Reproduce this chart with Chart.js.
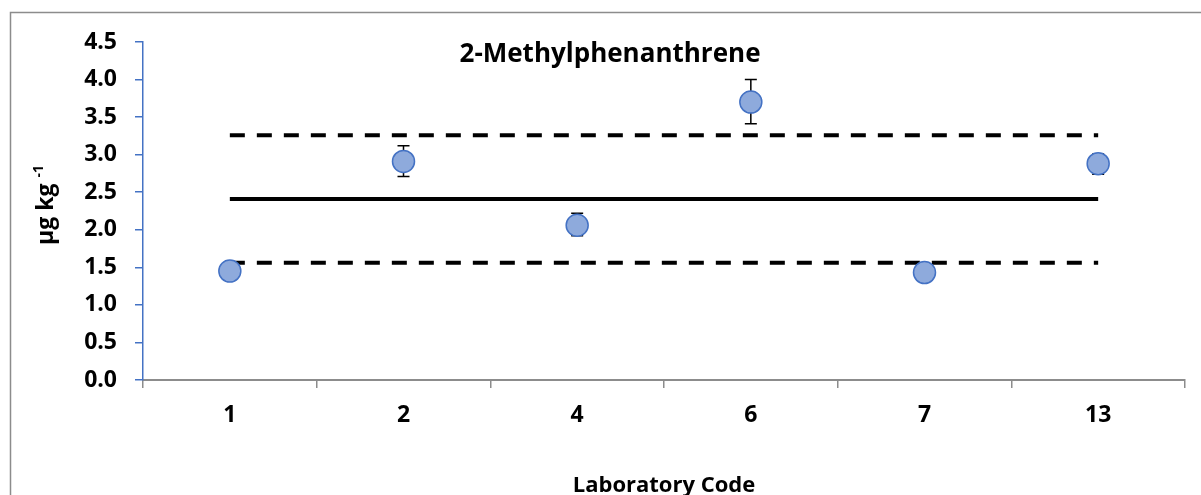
<!DOCTYPE html>
<html>
<head>
<meta charset="utf-8">
<script src="https://cdn.jsdelivr.net/npm/chart.js@4"></script>
<style>
  html, body { margin: 0; padding: 0; background: #fff; }
  #wrap { width: 1201px; height: 495px; position: relative; }
</style>
</head>
<body>
<div id="wrap"><canvas id="chart" width="1201" height="495"></canvas></div>
<script>
// lab codes and reported values (µg/kg)
const labCodes = ['1', '2', '4', '6', '7', '13'];
const labValues = [1.45, 2.91, 2.06, 3.70, 1.43, 2.88];
const errLow = [1.40, 2.71, 1.92, 3.41, 1.38, 2.74];
const errHigh = [1.50, 3.12, 2.22, 4.00, 1.48, 3.01];

// assigned value and limits
const assigned = 2.41;
const upperLimit = 3.26;
const lowerLimit = 1.56;

const yTicks = [0, 0.5, 1, 1.5, 2, 2.5, 3, 3.5, 4, 4.5];

const FONT = "'Open Sans', sans-serif";
const BLUE = '#4472c4';

// error bars, drawn before the markers
const errorBars = {
  id: 'errorBars',
  beforeDatasetsDraw(chart) {
    const ctx = chart.ctx;
    const x = chart.scales.x, y = chart.scales.y;
    ctx.save();
    ctx.strokeStyle = '#000';
    ctx.lineWidth = 1.5;
    labCodes.forEach((c, i) => {
      const px = x.getPixelForValue(i);
      const top = y.getPixelForValue(errHigh[i]);
      const bot = y.getPixelForValue(errLow[i]);
      ctx.beginPath();
      ctx.moveTo(px, top); ctx.lineTo(px, bot);
      ctx.moveTo(px - 6, top); ctx.lineTo(px + 6, top);
      ctx.moveTo(px - 6, bot); ctx.lineTo(px + 6, bot);
      ctx.stroke();
    });
    ctx.restore();
  }
};

// frame, title and y-axis label
const decorations = {
  id: 'decorations',
  afterDraw(chart) {
    const ctx = chart.ctx;
    ctx.save();
    ctx.strokeStyle = '#8c8c8c';
    ctx.lineWidth = 1.5;
    ctx.strokeRect(10.5, 12.5, 1400, 600);

    ctx.fillStyle = '#000';
    ctx.font = "bold 26px " + FONT;
    ctx.textAlign = 'center';
    ctx.textBaseline = 'alphabetic';
    ctx.fillText('2-Methylphenanthrene', 610, 62);

    // rotated y title with superscript
    ctx.translate(53, 205);
    ctx.rotate(-Math.PI / 2);
    ctx.font = "bold 23px " + FONT;
    const main = 'µg kg ';
    const wMain = ctx.measureText(main).width;
    ctx.font = "bold 14px " + FONT;
    const wSup = ctx.measureText('-1').width;
    const start = -(wMain + wSup) / 2;
    ctx.textAlign = 'left';
    ctx.font = "bold 23px " + FONT;
    ctx.fillText(main, start, 0);
    ctx.font = "bold 14px " + FONT;
    ctx.fillText('-1', start + wMain, -10);
    ctx.restore();
  }
};

const lineDs = (label, v, dash) => ({
  label: label,
  data: labCodes.map(() => v),
  borderColor: '#000',
  borderWidth: 4,
  borderDash: dash,
  borderCapStyle: 'butt',
  pointRadius: 0,
  fill: false
});

new Chart(document.getElementById('chart'), {
  type: 'line',
  data: {
    labels: labCodes,
    datasets: [
      {
        label: 'Lab result',
        data: labValues,
        showLine: false,
        pointRadius: 11,
        pointHoverRadius: 11,
        pointBackgroundColor: '#8eaadc',
        pointBorderColor: BLUE,
        pointBorderWidth: 1.5
      },
      lineDs('Assigned value', assigned, []),
      lineDs('Upper limit', upperLimit, [15, 12]),
      lineDs('Lower limit', lowerLimit, [15, 12])
    ]
  },
  options: {
    responsive: false,
    animation: false,
    layout: { padding: { top: 42, right: 16, bottom: 0, left: 0 } },
    plugins: {
      legend: { display: false },
      tooltip: { enabled: false }
    },
    scales: {
      x: {
        type: 'category',
        offset: true,
        border: { color: '#8c8c8c', width: 2 },
        grid: {
          offset: true,
          drawOnChartArea: false,
          drawTicks: true,
          tickLength: 8,
          color: '#8c8c8c',
          lineWidth: 1.5
        },
        ticks: {
          color: '#000',
          padding: 14,
          font: { family: FONT, weight: 'bold', size: 23 }
        },
        title: {
          display: true,
          text: 'Laboratory Code',
          color: '#000',
          padding: { top: 33, bottom: -4 },
          font: { family: FONT, weight: 'bold', size: 22 }
        },
        afterFit(s) { s.height = 115; }
      },
      y: {
        min: 0,
        max: 4.5,
        afterBuildTicks(s) { s.ticks = yTicks.map(v => ({ value: v })); },
        border: { color: BLUE, width: 1.5 },
        grid: {
          drawOnChartArea: false,
          drawTicks: true,
          tickLength: 8,
          color: BLUE,
          lineWidth: 1.5
        },
        ticks: {
          color: '#000',
          padding: 18,
          callback: v => v.toFixed(1),
          font: { family: FONT, weight: 'bold', size: 23 }
        },
        afterFit(s) { s.width = 143; }
      }
    }
  },
  plugins: [errorBars, decorations]
});
</script>
</body>
</html>
